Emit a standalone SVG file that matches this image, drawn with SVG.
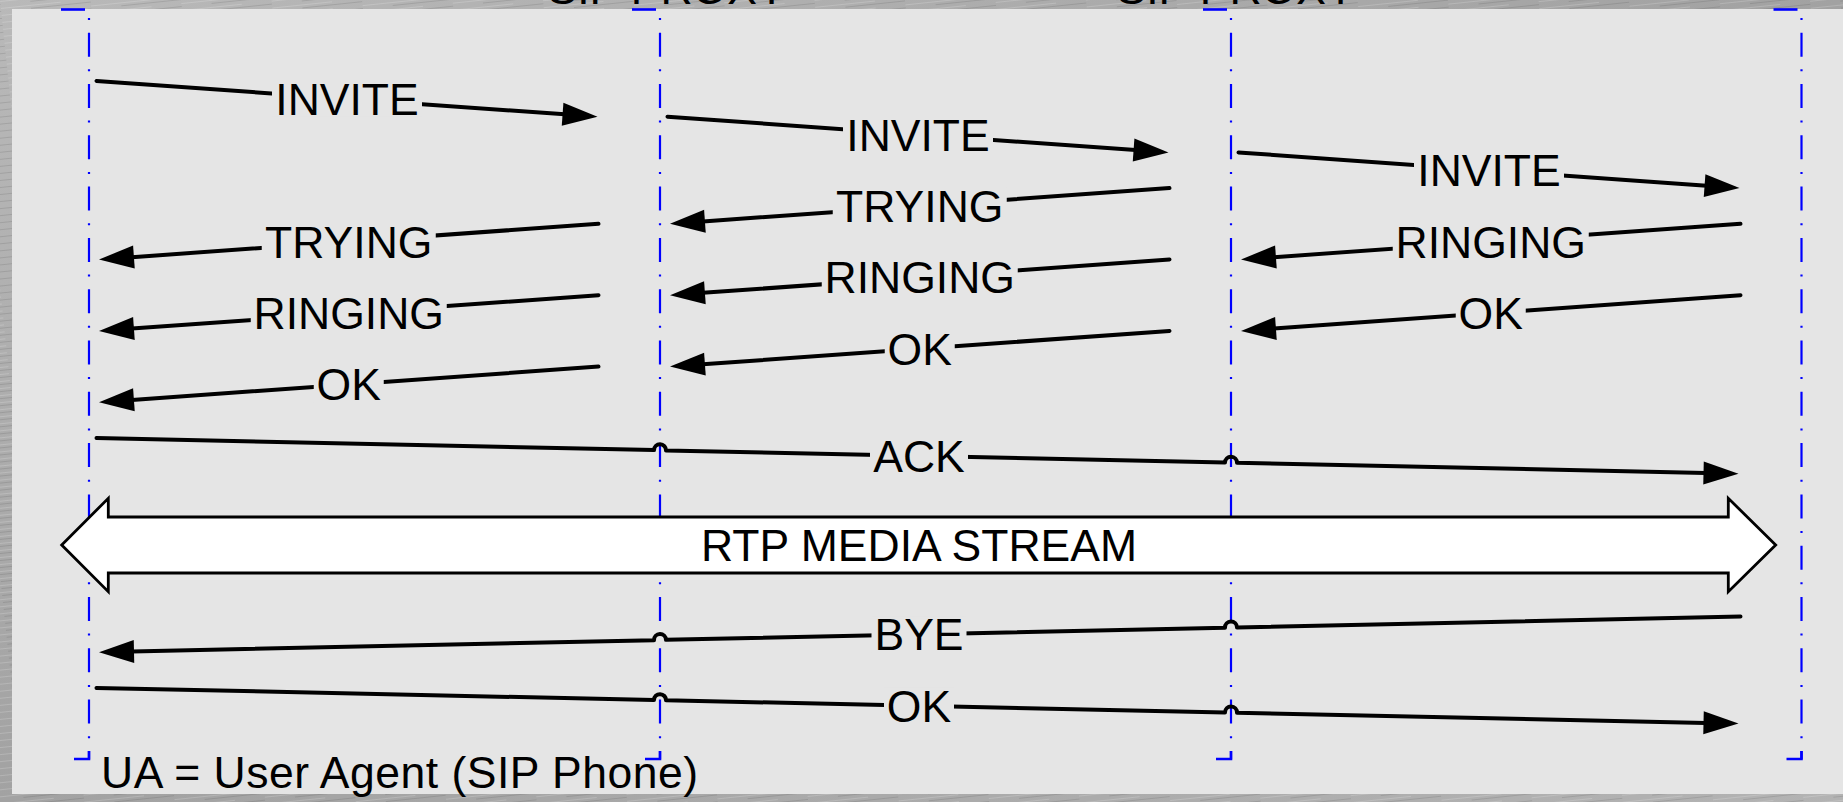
<svg xmlns="http://www.w3.org/2000/svg" width="1843" height="802" viewBox="0 0 1843 802">
  <defs>
    <linearGradient id="metal" x1="0" y1="0" x2="1" y2="1">
      <stop offset="0" stop-color="#b9b9b9"/>
      <stop offset="0.5" stop-color="#a2a2a2"/>
      <stop offset="1" stop-color="#b3b3b3"/>
    </linearGradient>
    <pattern id="brush" width="90" height="7" patternUnits="userSpaceOnUse" patternTransform="rotate(-6)">
      <rect width="90" height="7" fill="none"/>
      <line x1="0" y1="1.5" x2="60" y2="1.5" stroke="#ffffff" stroke-opacity="0.18" stroke-width="1"/>
      <line x1="30" y1="4.5" x2="90" y2="4.5" stroke="#000000" stroke-opacity="0.10" stroke-width="1"/>
    </pattern>
    <marker id="ah" markerUnits="userSpaceOnUse" markerWidth="36" markerHeight="24" refX="2" refY="11.5" orient="auto" overflow="visible">
      <path d="M0,0 L35,11.5 L0,23 z" fill="#000"/>
    </marker>
    <style>
      .life { fill: none; stroke: #0000ff; stroke-width: 2.2; stroke-dasharray: 2 12.7 24 12.6; }
      .mark { fill: none; stroke: #0000ff; stroke-width: 2.6; }
      .msg { fill: none; stroke: #000; stroke-width: 4; stroke-linecap: round; stroke-linejoin: round; marker-end: url(#ah); }
      .lbg { fill: #e5e5e5; stroke: none; }
      .lbl { font-family: "Liberation Sans", Arial, Helvetica, sans-serif; font-size: 44.5px; fill: #000; text-anchor: middle; }
      .note { font-family: "Liberation Sans", Arial, Helvetica, sans-serif; font-size: 44.5px; fill: #000; }
      .rtp { fill: #fff; stroke: #000; stroke-width: 2.8; stroke-linejoin: miter; }
    </style>
  </defs>

  <!-- background -->
  <rect x="0" y="0" width="1843" height="802" fill="url(#metal)"/>
  <rect x="0" y="0" width="1843" height="802" fill="url(#brush)"/>
  <rect x="12" y="9" width="1831" height="785" fill="#e5e5e5"/>

  <!-- cut-off header texts -->
  <text class="lbl" x="667" y="3.5">SIP PROXY</text>
  <text class="lbl" x="1236" y="3.5">SIP PROXY</text>

  <!-- lifelines -->
  <g id="ua-left">
    <path class="mark" d="M61,9.5 H85"/>
    <path class="life" d="M89,18 V759"/>
    <path class="mark" d="M74,759 H89 V751"/>
  </g>
  <g id="proxy-1">
    <path class="mark" d="M632,9.5 H656"/>
    <path class="life" d="M660,18 V759"/>
    <path class="mark" d="M645,759 H660 V751"/>
  </g>
  <g id="proxy-2">
    <path class="mark" d="M1203,9.5 H1227"/>
    <path class="life" d="M1231,18 V759"/>
    <path class="mark" d="M1216,759 H1231 V751"/>
  </g>
  <g id="ua-right">
    <path class="mark" d="M1773.5,9.5 H1797.5"/>
    <path class="life" d="M1801.5,18 V759"/>
    <path class="mark" d="M1786.5,759 H1801.5 V751"/>
  </g>

  <!-- RTP media stream -->
  <g id="rtp-stream">
    <polygon class="rtp" points="61.7,545 108.3,498.3 108.3,517 1728.3,517 1728.3,498.3 1775.7,545 1728.3,591.7 1728.3,573 108.3,573 108.3,591.7"/>
    <text class="lbl" x="919" y="561">RTP MEDIA STREAM</text>
  </g>

  <!-- connectors -->
  <g id="connectors">
    <path class="msg" d="M96.5,81 L564.58,114.35"/>
    <path class="msg" d="M598.5,223.8 L131.92,257.15"/>
    <path class="msg" d="M598.5,295.2 L131.92,328.55"/>
    <path class="msg" d="M598.5,366.6 L131.92,399.95"/>

    <path class="msg" d="M667.5,116.7 L1135.58,150.05"/>
    <path class="msg" d="M1169.5,188.1 L702.92,221.45"/>
    <path class="msg" d="M1169.5,259.5 L702.92,292.85"/>
    <path class="msg" d="M1169.5,330.9 L702.92,364.25"/>

    <path class="msg" d="M1238.5,152.4 L1706.58,185.75"/>
    <path class="msg" d="M1740.5,223.8 L1273.92,257.15"/>
    <path class="msg" d="M1740.5,295.2 L1273.92,328.55"/>

    <path class="msg" d="M96.5,438 L654,450.12 A6,6 0 0 1 666,450.38 L1225,462.54 A6,6 0 0 1 1237,462.8 L1705.51,472.98"/>
    <path class="msg" d="M1740.5,616.5 L1237,627.45 A6,6 0 0 0 1225,627.71 L666,639.87 A6,6 0 0 0 654,640.13 L131.99,651.48"/>
    <path class="msg" d="M96.5,687.9 L654,700.02 A6,6 0 0 1 666,700.28 L1225,712.44 A6,6 0 0 1 1237,712.7 L1705.51,722.88"/>
  </g>

  <!-- message labels -->
  <g id="labels">
    <rect class="lbg" x="272" y="80.85" width="150" height="36"/>
    <text class="lbl" x="347" y="114.85">INVITE</text>
    <rect class="lbg" x="261.75" y="223.65" width="174" height="36"/>
    <text class="lbl" x="348.75" y="257.65">TRYING</text>
    <rect class="lbg" x="250.75" y="295.05" width="196" height="36"/>
    <text class="lbl" x="348.75" y="329.05">RINGING</text>
    <rect class="lbg" x="313.75" y="366.45" width="70" height="36"/>
    <text class="lbl" x="348.75" y="400.45">OK</text>

    <rect class="lbg" x="843" y="116.55" width="150" height="36"/>
    <text class="lbl" x="918" y="150.55">INVITE</text>
    <rect class="lbg" x="832.75" y="187.95" width="174" height="36"/>
    <text class="lbl" x="919.75" y="221.95">TRYING</text>
    <rect class="lbg" x="821.75" y="259.35" width="196" height="36"/>
    <text class="lbl" x="919.75" y="293.35">RINGING</text>
    <rect class="lbg" x="884.75" y="330.75" width="70" height="36"/>
    <text class="lbl" x="919.75" y="364.75">OK</text>

    <rect class="lbg" x="1414" y="152.25" width="150" height="36"/>
    <text class="lbl" x="1489" y="186.25">INVITE</text>
    <rect class="lbg" x="1392.75" y="223.65" width="196" height="36"/>
    <text class="lbl" x="1490.75" y="257.65">RINGING</text>
    <rect class="lbg" x="1455.75" y="295.05" width="70" height="36"/>
    <text class="lbl" x="1490.75" y="329.05">OK</text>

    <rect class="lbg" x="870" y="437.88" width="98" height="36"/>
    <text class="lbl" x="919" y="471.88">ACK</text>
    <rect class="lbg" x="871.5" y="616.37" width="95" height="36"/>
    <text class="lbl" x="919" y="650.37">BYE</text>
    <rect class="lbg" x="884" y="687.78" width="70" height="36"/>
    <text class="lbl" x="919" y="721.78">OK</text>
  </g>

  <!-- note -->
  <g id="note">
    <text class="note" x="101" y="788" textLength="597" lengthAdjust="spacing">UA = User Agent (SIP Phone)</text>
  </g>
</svg>
